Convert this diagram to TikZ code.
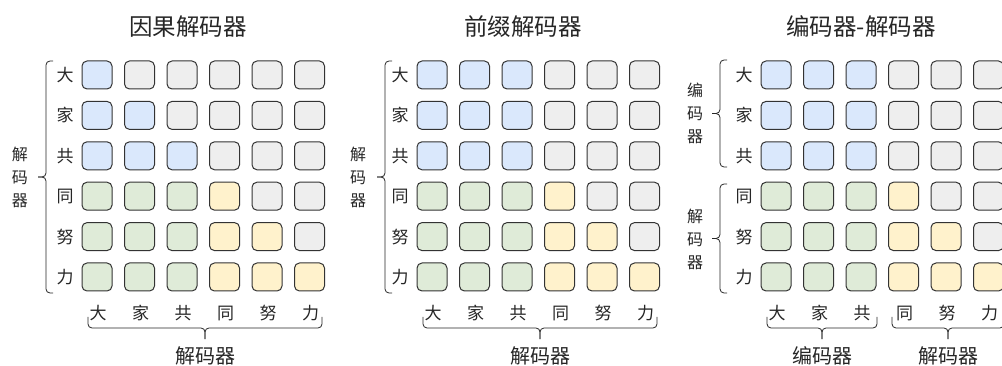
\documentclass[tikz,border=0pt]{standalone}
\usepackage{fontspec}
\newfontfamily\cjk{Noto Sans CJK SC}
\usepackage{tikz}
\usetikzlibrary{positioning}
\definecolor{cellblue}{HTML}{DAE8FC}
\definecolor{cellgray}{HTML}{EEEEEE}
\definecolor{cellgreen}{HTML}{DFEBD8}
\definecolor{cellyellow}{HTML}{FFF2CC}
\definecolor{edge}{HTML}{333333}
% left bracket: x, top, bottom
\newcommand{\lbrk}[3]{%
  \draw[brk] (#1+7,#2) -- (#1,#2) -- (#1,{(#2+#3)/2}) -- (#1-8,{(#2+#3)/2});
  \draw[brk] (#1+7,#3) -- (#1,#3) -- (#1,{(#2+#3)/2}) -- (#1-8,{(#2+#3)/2});}
% bottom brace: left, right, top
\newcommand{\bbrk}[3]{%
  \draw[brk] (#1,#3) -- (#1,#3+11) -- ({(#1+#2)/2},#3+11) -- ({(#1+#2)/2},#3+22);
  \draw[brk] (#2,#3) -- (#2,#3+11) -- ({(#1+#2)/2},#3+11) -- ({(#1+#2)/2},#3+22);}

\begin{document}
\begin{tikzpicture}[x=1pt, y=-1pt,
    cell/.style={draw=edge, line width=1pt, rounded corners=5pt,
                 minimum width=30pt, minimum height=28pt, inner sep=0pt},
    lab/.style={font=\cjk\fontsize{17}{17}\selectfont, text=black!85, inner sep=0pt},
    blab/.style={font=\cjk\fontsize{20}{20}\selectfont, text=black!85, inner sep=0pt},
    ttl/.style={font=\cjk\fontsize{23.5}{24}\selectfont, text=black!85},
    vlab/.style={font=\cjk\fontsize{16}{23}\selectfont, align=center, text=black!85, inner sep=0pt},
    brk/.style={draw=black!85, line width=0.8pt, rounded corners=4pt}
  ]
  \useasboundingbox (0,0) rectangle (1002,366);
  % Titles
  \node[ttl] (t1) at (188,27) {因果解码器};
  \node[ttl] (t2) at (523,27) {前缀解码器};
  \node[ttl] (t3) at (861,27) {编码器-解码器};
  % Three grids with row and column labels
  \foreach \p/\ox in {1/0,2/335,3/679} {
    \foreach \r/\rt in {1/大,2/家,3/共,4/同,5/努,6/力} {
      \node[lab] (r\p\r) at (65+\ox, {75+40.4*(\r-1)}) {\rt};
      \node[lab] (c\p\r) at ({98+42.5*(\r-1)+\ox}, 313) {\rt};
      \foreach \c in {1,...,6} {
        \ifnum\r<4
          \ifnum\c>\r \def\fc{cellgray}\else \def\fc{cellblue}\fi
          \ifnum\p>1 \ifnum\c<4 \def\fc{cellblue}\fi\fi
        \else
          \ifnum\c<4 \def\fc{cellgreen}\else
            \ifnum\c>\r \def\fc{cellgray}\else \def\fc{cellyellow}\fi
          \fi
        \fi
        \node[cell, fill=\fc] (\p-\r-\c) at ({97+42.5*(\c-1)+\ox}, {75+40.4*(\r-1)}) {};
      }
    }
  }
  % Left brackets
  \lbrk{46}{61}{293}
  \node[vlab] (v1) at (20,177) {解\\码\\器};
  \lbrk{385}{61}{293}
  \node[vlab] (v2) at (358,177) {解\\码\\器};
  \lbrk{720}{60}{167}
  \node[vlab] (v3) at (695,113) {编\\码\\器};
  \lbrk{720}{184}{293}
  \node[vlab] (v4) at (695,239) {解\\码\\器};
  % Bottom braces
  \bbrk{88}{322}{317}
  \node[blab] (b1) at (205,356) {解码器};
  \bbrk{423}{657}{317}
  \node[blab] (b2) at (540,356) {解码器};
  \bbrk{767}{877}{317}
  \node[blab] (b3) at (822,356) {编码器};
  \bbrk{892}{1004}{317}
  \node[blab] (b4) at (948,356) {解码器};
\end{tikzpicture}
\end{document}
